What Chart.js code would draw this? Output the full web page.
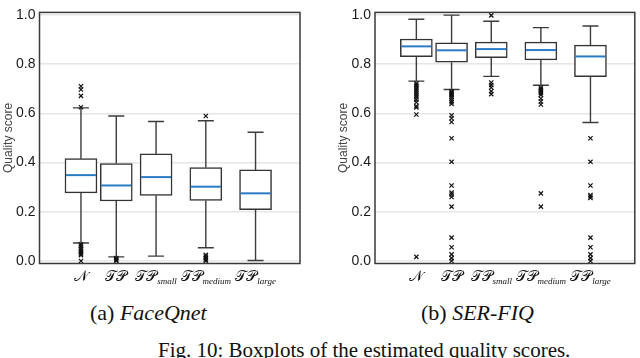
<!DOCTYPE html>
<html>
<head>
<meta charset="utf-8">
<script src="https://cdn.jsdelivr.net/npm/chart.js@4.4.0/dist/chart.umd.min.js"></script>
<style>
  html, body { margin: 0; padding: 0; background: #fff; }
  body { width: 640px; height: 358px; position: relative; overflow: hidden; font-family: "Liberation Serif", serif; color: #111; }
  .panel { position: absolute; top: 0; width: 320px; height: 290px; }
  #leftPanel { left: 0; }
  #rightPanel { left: 320px; }
  .cap { position: absolute; font-size: 22px; line-height: 24px; white-space: nowrap; }
</style>
</head>
<body>
<div class="panel" id="leftPanel"><canvas id="faceqnet"></canvas></div>
<div class="panel" id="rightPanel"><canvas id="serfiq"></canvas></div>
<div class="cap" style="left:90px;top:301px">(a) <i>FaceQnet</i></div>
<div class="cap" style="left:421px;top:301px">(b) <i>SER-FIQ</i></div>
<div class="cap" style="left:158px;top:338px;font-size:21px">Fig. 10: Boxplots of the estimated quality scores.</div>

<script>
// categories (calligraphic N / TP with subscripts)
const catMain = ['\u{1D4A9}', '\u{1D4AF}\u{1D4AB}', '\u{1D4AF}\u{1D4AB}', '\u{1D4AF}\u{1D4AB}', '\u{1D4AF}\u{1D4AB}'];
const catSub = ['', '', 'small', 'medium', 'large'];
const yTicks = [0, 0.2, 0.4, 0.6, 0.8, 1.0];

// (a) FaceQnet
const fqQ1 = [0.277, 0.244, 0.267, 0.246, 0.209];
const fqMedian = [0.349, 0.307, 0.341, 0.302, 0.275];
const fqQ3 = [0.416, 0.396, 0.435, 0.380, 0.370];
const fqLow = [0.073, 0.017, 0.020, 0.054, 0.002];
const fqHigh = [0.622, 0.589, 0.567, 0.570, 0.523];
const fqOutliers = [
  [0.625, 0.671, 0.697, 0.710, 0.068, 0.062, 0.055, 0.048, 0.042, 0.036, 0.030, 0.024, 0.0],
  [0.012, 0.007, 0.003, 0.0],
  [],
  [0.589, 0.025, 0.018, 0.011, 0.005, 0.0],
  []
];

// (b) SER-FIQ
const sfQ1 = [0.830, 0.808, 0.826, 0.817, 0.749];
const sfMedian = [0.872, 0.856, 0.861, 0.857, 0.831];
const sfQ3 = [0.902, 0.886, 0.889, 0.889, 0.877];
const sfLow = [0.731, 0.697, 0.750, 0.714, 0.563];
const sfHigh = [0.982, 0.999, 0.974, 0.948, 0.955];
const sfOutliers = [
  [0.722, 0.716, 0.710, 0.703, 0.696, 0.688, 0.680, 0.672, 0.664, 0.655, 0.645, 0.630, 0.624, 0.595, 0.017],
  [0.690, 0.685, 0.680, 0.675, 0.668, 0.660, 0.652, 0.645, 0.638, 0.592, 0.580, 0.565, 0.499, 0.403,
   0.307, 0.278, 0.270, 0.260, 0.221, 0.095, 0.056, 0.027, 0.012, 0.0],
  [0.998, 0.725, 0.715, 0.705, 0.690, 0.678],
  [0.705, 0.700, 0.695, 0.690, 0.683, 0.675, 0.660, 0.648, 0.636, 0.275, 0.221],
  [0.499, 0.403, 0.307, 0.268, 0.262, 0.256, 0.095, 0.056, 0.027, 0.012, 0.0]
];

// layout: where each box sits on the x axis (boxes are not evenly spaced in the figure)
const catPos = [0.31, 1.02, 1.82, 2.82, 3.82];
const xMax = 4.19;

const boxParts = {
  id: 'boxParts',
  beforeDatasetsDraw(chart) {
    const b = chart.options.plugins.boxParts;
    const x = chart.scales.x, y = chart.scales.y, ctx = chart.ctx;
    ctx.save();
    ctx.strokeStyle = '#3c3c3c';
    ctx.lineWidth = 1.4;
    catPos.forEach((p, i) => {
      const px = x.getPixelForValue(p);
      ctx.beginPath();
      ctx.moveTo(px, y.getPixelForValue(b.q3[i]));
      ctx.lineTo(px, y.getPixelForValue(b.high[i]));
      ctx.moveTo(px, y.getPixelForValue(b.q1[i]));
      ctx.lineTo(px, y.getPixelForValue(b.low[i]));
      ctx.moveTo(px - 8, y.getPixelForValue(b.high[i]));
      ctx.lineTo(px + 8, y.getPixelForValue(b.high[i]));
      ctx.moveTo(px - 8, y.getPixelForValue(b.low[i]));
      ctx.lineTo(px + 8, y.getPixelForValue(b.low[i]));
      ctx.stroke();
    });
    ctx.restore();
  },
  afterDatasetDraw(chart, args) {
    if (args.index !== 0) return;
    const b = chart.options.plugins.boxParts;
    const x = chart.scales.x, y = chart.scales.y, ctx = chart.ctx;
    ctx.save();
    ctx.strokeStyle = '#2a7bc4';
    ctx.lineWidth = 2;
    catPos.forEach((p, i) => {
      const px = x.getPixelForValue(p), py = y.getPixelForValue(b.median[i]);
      ctx.beginPath();
      ctx.moveTo(px - 15, py);
      ctx.lineTo(px + 15, py);
      ctx.stroke();
    });
    ctx.restore();
  },
  afterDraw(chart) {
    const a = chart.chartArea, x = chart.scales.x, ctx = chart.ctx;
    ctx.save();
    ctx.strokeStyle = '#3a3a3a';
    ctx.lineWidth = 1.5;
    ctx.strokeRect(a.left, a.top, a.right - a.left, a.bottom - a.top);
    ctx.fillStyle = '#111';
    ctx.textBaseline = 'alphabetic';
    const mainFont = '15px "DejaVu Serif", "DejaVu Sans", serif';
    const subFont = 'italic 9px "Liberation Serif", serif';
    catPos.forEach((p, i) => {
      ctx.font = mainFont;
      const w1 = ctx.measureText(catMain[i]).width;
      ctx.font = subFont;
      const w2 = catSub[i] ? ctx.measureText(catSub[i]).width : 0;
      const start = x.getPixelForValue(p) - (w1 + w2) / 2;
      const base = a.bottom + 17;
      ctx.font = mainFont;
      ctx.fillText(catMain[i], start, base);
      if (catSub[i]) {
        ctx.font = subFont;
        ctx.fillText(catSub[i], start + w1, base + 3);
      }
    });
    ctx.restore();
  }
};

function makeChart(id, q1, median, q3, low, high, outliers, padLeft, padRight) {
  const boxes = catPos.map((p, i) => ({ x: p, y: [q1[i], q3[i]] }));
  const points = [];
  outliers.forEach((arr, i) => arr.forEach(v => points.push({ x: catPos[i], y: v })));
  return new Chart(document.getElementById(id), {
    type: 'bar',
    data: {
      datasets: [{
        type: 'bar',
        data: boxes,
        backgroundColor: '#ffffff',
        borderColor: '#333333',
        borderWidth: 1.5,
        borderSkipped: false,
        barThickness: 32,
        grouped: false,
        order: 2
      }, {
        type: 'scatter',
        data: points,
        pointStyle: 'crossRot',
        radius: 3,
        borderColor: '#111111',
        borderWidth: 1.2,
        order: 1
      }]
    },
    options: {
      responsive: true,
      maintainAspectRatio: false,
      animation: false,
      layout: { padding: { left: padLeft, right: padRight, top: 3.5, bottom: 0 } },
      plugins: {
        legend: { display: false },
        tooltip: { enabled: false },
        boxParts: { q1, median, q3, low, high }
      },
      scales: {
        x: {
          type: 'linear',
          min: 0,
          max: xMax,
          ticks: { display: false },
          grid: { display: false },
          border: { display: false },
          afterFit: s => { s.height = 26.5; }
        },
        y: {
          min: -0.01,
          max: 1.01,
          afterBuildTicks: s => { s.ticks = yTicks.map(v => ({ value: v })); },
          afterFit: s => { s.width = 39.5; },
          ticks: {
            padding: 4,
            color: '#1a1a1a',
            font: { family: '"Liberation Sans", Arial, sans-serif', size: 14 },
            callback: v => v.toFixed(1)
          },
          grid: { color: '#e6e6e6', lineWidth: 1.5, drawTicks: false },
          border: { display: false },
          title: {
            display: true,
            text: 'Quality score',
            color: '#444',
            padding: { top: 1, bottom: 0 },
            font: { family: '"Liberation Sans", Arial, sans-serif', size: 12 }
          }
        }
      }
    },
    plugins: [boxParts]
  });
}

makeChart('faceqnet', fqQ1, fqMedian, fqQ3, fqLow, fqHigh, fqOutliers, 0, 20);
makeChart('serfiq', sfQ1, sfMedian, sfQ3, sfLow, sfHigh, sfOutliers, 15.5, 3);
</script>
</body>
</html>
